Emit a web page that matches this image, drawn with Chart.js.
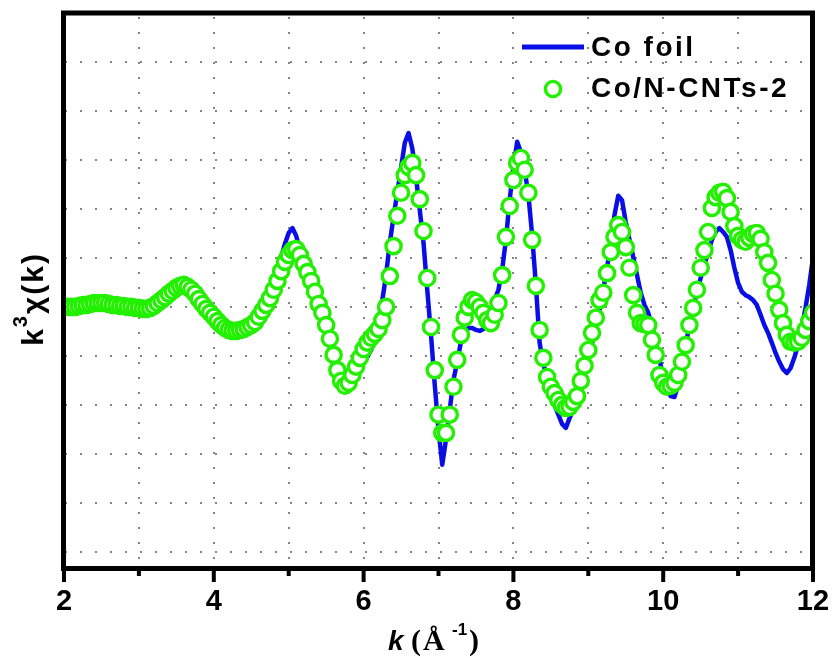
<!DOCTYPE html>
<html>
<head>
<meta charset="utf-8">
<script src="https://cdn.jsdelivr.net/npm/chart.js@4.4.1/dist/chart.umd.min.js"></script>
<style>
  html, body { margin: 0; padding: 0; background: #fff; }
  #wrap { width: 836px; height: 658px; }
</style>
</head>
<body>
<div id="wrap"><canvas id="exafs" width="836" height="658"></canvas></div>
<script>
// k grid in Å^-1, sampled every 0.05 from 2 to 12
const kStart = 2;
const kStep = 0.05;

// k^3 chi(k), arbitrary units (one grid division = 1)
const coFoil = [
  0, 0, 0, 0, 0.02, 0.04, 0.04, 0.06, 0.08, 0.08,
  0.08, 0.08, 0.06, 0.04, 0.04, 0.02, 0.02, 0, 0, -0.02,
  -0.02, -0.04, -0.04, -0.02, 0.02, 0.08, 0.14, 0.20, 0.27, 0.33,
  0.39, 0.43, 0.45, 0.41, 0.35, 0.27, 0.16, 0.06, -0.04, -0.14,
  -0.24, -0.33, -0.41, -0.47, -0.51, -0.59, -0.61, -0.57, -0.51, -0.45,
  -0.37, -0.27, -0.14, 0, 0.16, 0.35, 0.55, 0.78, 1.02, 1.29,
  1.51, 1.61, 1.45, 1.16, 0.88, 0.65, 0.45, 0.22, -0.02, -0.27,
  -0.53, -0.82, -1.12, -1.39, -1.59, -1.71, -1.71, -1.59, -1.43, -1.27,
  -1.12, -1.02, -0.88, -0.61, -0.27, 0.14, 0.65, 1.31, 1.84, 2.33,
  2.84, 3.35, 3.55, 3.24, 2.65, 1.98, 1.31, 0.35, -0.57, -1.59,
  -2.51, -3.22, -2.71, -2.10, -1.49, -1.12, -0.71, -0.51, -0.43, -0.43,
  -0.47, -0.49, -0.45, -0.33, -0.20, 0.14, 0.35, 0.76, 1.37, 2.18,
  2.84, 3.37, 3.16, 2.80, 2.29, 1.47, 0.45, -0.73, -1.18, -1.43,
  -1.69, -2.00, -2.20, -2.39, -2.47, -2.27, -2.10, -1.86, -1.59, -1.29,
  -1.02, -0.73, -0.37, -0.06, 0.35, 0.80, 1.27, 1.88, 2.27, 2.18,
  1.73, 1.37, 1.02, 0.65, 0.29, 0.04, -0.12, -0.37, -0.71, -1.08,
  -1.43, -1.69, -1.82, -1.84, -1.59, -1.20, -0.78, -0.37, -0.02, 0.29,
  0.59, 0.86, 1.12, 1.37, 1.53, 1.61, 1.53, 1.43, 1.16, 0.80,
  0.49, 0.31, 0.24, 0.20, 0.14, 0.04, -0.16, -0.37, -0.53, -0.73,
  -0.94, -1.12, -1.27, -1.35, -1.25, -1.04, -0.78, -0.43, -0.02, 0.45,
  1.00
];

const coNCnts2 = [
  0, 0, 0, 0, 0.02, 0.04, 0.04, 0.06, 0.08, 0.08,
  0.08, 0.08, 0.06, 0.04, 0.04, 0.02, 0.02, 0, 0, -0.02,
  -0.02, -0.04, -0.04, -0.02, 0.02, 0.08, 0.14, 0.20, 0.27, 0.33,
  0.39, 0.43, 0.45, 0.41, 0.35, 0.27, 0.16, 0.06, -0.04, -0.12,
  -0.20, -0.29, -0.37, -0.43, -0.47, -0.49, -0.49, -0.47, -0.45, -0.41,
  -0.37, -0.31, -0.20, -0.08, 0.04, 0.18, 0.35, 0.53, 0.73, 0.92,
  1.06, 1.16, 1.18, 1.06, 0.88, 0.71, 0.53, 0.31, 0.06, -0.12,
  -0.37, -0.65, -0.98, -1.29, -1.51, -1.61, -1.55, -1.39, -1.22, -1.04,
  -0.86, -0.73, -0.63, -0.55, -0.45, -0.27, 0, 0.63, 1.24, 1.86,
  2.33, 2.69, 2.86, 2.94, 2.69, 2.20, 1.55, 0.59, -0.41, -1.29,
  -2.20, -2.57, -2.57, -2.20, -1.63, -1.08, -0.57, -0.22, 0, 0.14,
  0.10, 0, -0.12, -0.27, -0.33, -0.16, 0.08, 0.65, 1.43, 2.06,
  2.59, 2.94, 3.04, 2.80, 2.33, 1.37, 0.43, -0.47, -1.04, -1.43,
  -1.63, -1.76, -1.90, -2.00, -2.06, -2.04, -1.94, -1.82, -1.51, -1.20,
  -0.88, -0.53, -0.22, 0.14, 0.29, 0.69, 1.12, 1.43, 1.67, 1.53,
  1.22, 0.80, 0.24, -0.12, -0.33, -0.35, -0.37, -0.67, -0.98, -1.39,
  -1.55, -1.63, -1.61, -1.55, -1.39, -1.12, -0.78, -0.37, -0.02, 0.35,
  0.80, 1.16, 1.53, 2.02, 2.24, 2.33, 2.35, 2.22, 1.94, 1.65,
  1.45, 1.37, 1.33, 1.41, 1.49, 1.51, 1.39, 1.12, 0.90, 0.55,
  0.27, -0.06, -0.33, -0.57, -0.71, -0.73, -0.71, -0.63, -0.47, -0.29,
  -0.12
];

const xTicks = [2, 4, 6, 8, 10, 12];
const xMinor = [3, 5, 7, 9, 11];
const seriesNames = ['Co foil', 'Co/N-CNTs-2'];

const BLUE = '#0a0ee6';
const GREEN = '#22f000';
const SANS = "'Liberation Sans', Arial, sans-serif";
const SERIF = "'Liberation Serif', 'Times New Roman', serif";

const kValues = coFoil.map((_, i) => +(kStart + i * kStep).toFixed(2));
const toPoints = arr => arr.map((v, i) => ({ x: kValues[i], y: v }));

// frame, outward ticks, legend and axis titles
const decorations = {
  id: 'decorations',
  afterDraw(chart) {
    const { ctx, chartArea: a, scales: { x } } = chart;
    ctx.save();

    ctx.strokeStyle = '#000';
    ctx.lineWidth = 5;
    ctx.strokeRect(a.left - 0.5, a.top, a.right - a.left, a.bottom - a.top + 0.5);

    ctx.lineWidth = 4;
    xTicks.concat(xMinor).forEach(k => {
      const px = x.getPixelForValue(k);
      const len = xTicks.includes(k) ? 14 : 8;
      ctx.beginPath();
      ctx.moveTo(px, a.bottom);
      ctx.lineTo(px, a.bottom + len);
      ctx.stroke();
    });

    // legend
    ctx.strokeStyle = BLUE;
    ctx.lineWidth = 5;
    ctx.beginPath();
    ctx.moveTo(522, 47);
    ctx.lineTo(584, 47);
    ctx.stroke();

    ctx.fillStyle = '#fff';
    ctx.strokeStyle = GREEN;
    ctx.lineWidth = 3.4;
    ctx.beginPath();
    ctx.arc(553, 89, 7.6, 0, Math.PI * 2);
    ctx.fill();
    ctx.stroke();

    ctx.fillStyle = '#000';
    ctx.textBaseline = 'alphabetic';
    ctx.textAlign = 'left';
    ctx.font = `bold 28px ${SANS}`;
    ctx.letterSpacing = '2.5px';
    ctx.fillText(seriesNames[0], 591, 56);
    ctx.fillText(seriesNames[1], 591, 97);

    // y title: k^3 chi(k)
    ctx.save();
    ctx.translate(43, 299);
    ctx.rotate(-Math.PI / 2);
    ctx.letterSpacing = '2px';
    const big = `bold 30px ${SANS}`;
    const small = `bold 20px ${SANS}`;
    ctx.font = big;
    const w1 = ctx.measureText('k').width;
    const w3 = ctx.measureText('\u03c7(k)').width;
    ctx.font = small;
    const w2 = ctx.measureText('3').width;
    let cx = -(w1 + w2 + w3) / 2;
    ctx.font = big;
    ctx.fillText('k', cx, 0);
    cx += w1;
    ctx.font = small;
    ctx.fillText('3', cx, -16);
    cx += w2;
    ctx.font = big;
    ctx.fillText('\u03c7(k)', cx, 0);
    ctx.restore();

    // x title: k (Å^-1)
    ctx.letterSpacing = '0px';
    const base = 650;
    ctx.font = `italic bold 28px ${SANS}`;
    ctx.fillText('k', 388, base);
    ctx.font = `bold 30px ${SERIF}`;
    ctx.fillText('(', 411, base);
    ctx.fillText('\u00c5', 423, base);
    ctx.font = `bold 17px ${SANS}`;
    ctx.fillText('-1', 452, base - 15);
    ctx.font = `bold 30px ${SERIF}`;
    ctx.fillText(')', 469, base);

    ctx.restore();
  }
};

new Chart(document.getElementById('exafs'), {
  type: 'scatter',
  data: {
    datasets: [
      {
        label: seriesNames[1],
        data: toPoints(coNCnts2),
        showLine: false,
        pointStyle: 'circle',
        pointRadius: 7.6,
        pointBorderWidth: 3.4,
        pointBackgroundColor: '#fff',
        pointBorderColor: GREEN,
        clip: 0
      },
      {
        label: seriesNames[0],
        data: toPoints(coFoil),
        showLine: true,
        borderColor: BLUE,
        borderWidth: 4.5,
        pointRadius: 0,
        tension: 0,
        borderJoinStyle: 'round',
        clip: 0
      }
    ]
  },
  options: {
    responsive: false,
    animation: false,
    events: [],
    layout: { padding: { top: 13, right: 23, left: 0, bottom: 0 } },
    plugins: { legend: { display: false }, tooltip: { enabled: false } },
    scales: {
      x: {
        type: 'linear',
        min: 2,
        max: 12,
        afterFit: s => {
          s.height = 90;
          s.paddingLeft = 0;
          s.paddingRight = 0;
        },
        ticks: {
          stepSize: 1,
          autoSkip: false,
          maxRotation: 0,
          padding: 17,
          color: '#000',
          font: { family: SANS, size: 29, weight: 'bold' },
          callback: v => (xTicks.includes(v) ? String(v) : '')
        },
        grid: { color: '#858585', lineWidth: 2, drawTicks: false },
        border: { display: false, dash: [2, 13], dashOffset: 11 }
      },
      y: {
        type: 'linear',
        min: -5.33,
        max: 6,
        afterFit: s => { s.width = 64; },
        ticks: { display: false, stepSize: 1 },
        grid: { color: '#858585', lineWidth: 2, drawTicks: false },
        border: { display: false, dash: [2, 13], dashOffset: 14 }
      }
    }
  },
  plugins: [decorations]
});
</script>
</body>
</html>
